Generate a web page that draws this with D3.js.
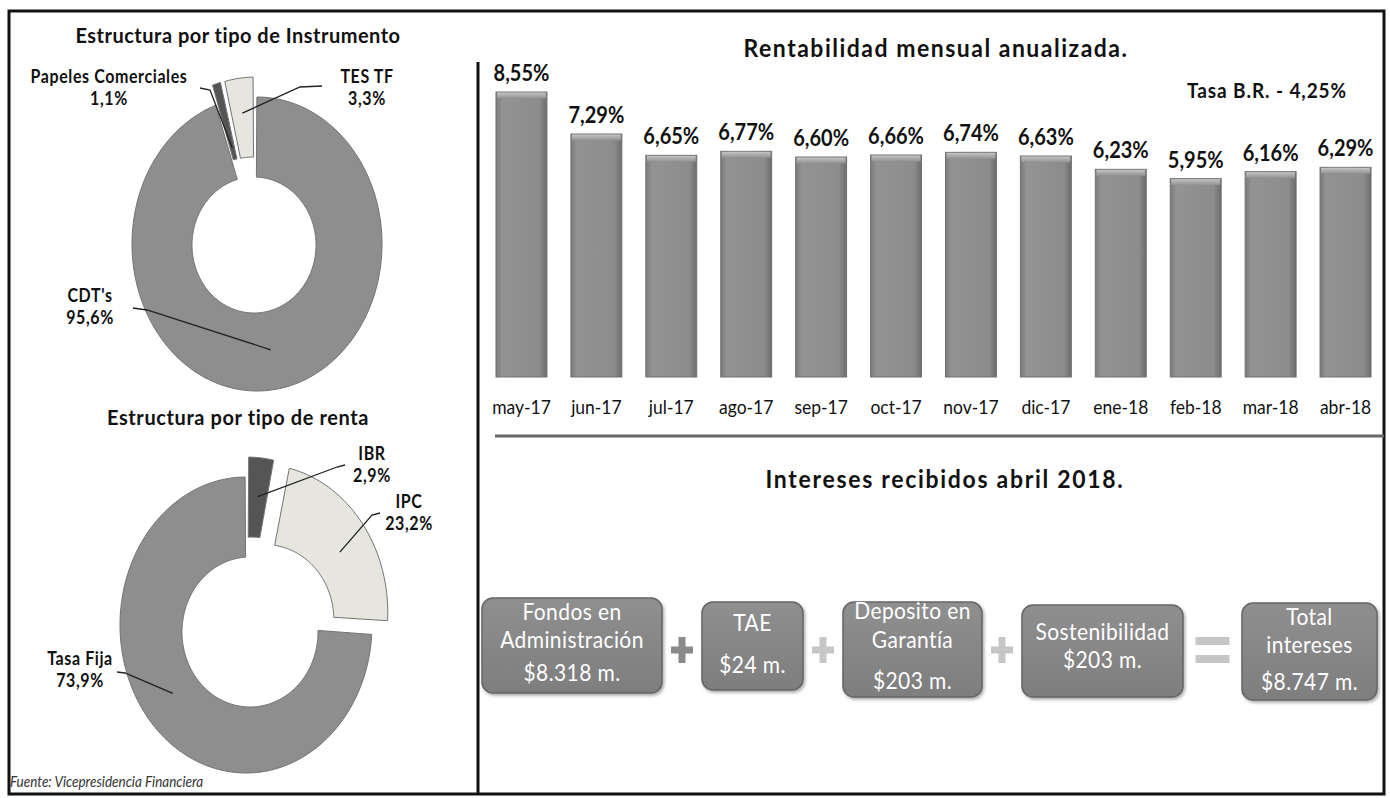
<!DOCTYPE html>
<html>
<head>
<meta charset="utf-8">
<script src="https://cdn.jsdelivr.net/npm/d3@7"></script>
<style>
  body { margin: 0; background: #fff; }
  svg { display: block; }
</style>
</head>
<body>
<svg width="1390" height="798"></svg>
<script>
// --- data ---
var instNames = ["CDT's", "Papeles Comerciales", "TES TF"];
var instValues = [95.6, 1.1, 3.3];

var rentaNames = ["IBR", "IPC", "Tasa Fija"];
var rentaValues = [2.9, 23.2, 73.9];

var months = ["may-17", "jun-17", "jul-17", "ago-17", "sep-17", "oct-17",
              "nov-17", "dic-17", "ene-18", "feb-18", "mar-18", "abr-18"];
var rentab = [8.55, 7.29, 6.65, 6.77, 6.60, 6.66, 6.74, 6.63, 6.23, 5.95, 6.16, 6.29];
var tasaBR = 4.25;

var conceptos = [["Fondos en", "Administración"], ["TAE"], ["Deposito en", "Garantía"],
                 ["Sostenibilidad"], ["Total", "intereses"]];
var montos = [8318, 24, 203, 203, 8747];
var operadores = ["+", "+", "+", "="];

// --- layout ---
var SY = 1.14; // the scan is a bit stretched vertically
var es = d3.formatLocale({decimal: ",", thousands: ".", grouping: [3], currency: ["$", ""]});
var pct1 = function(d) { return es.format(".1f")(d) + "%"; };
var pct2 = function(d) { return es.format(".2f")(d) + "%"; };
var money = function(d) { return es.format("$,")(d) + " m."; };

var svg = d3.select("svg");

var defs = svg.append("defs");
var gb = defs.append("linearGradient").attr("id", "barGrad");
gb.append("stop").attr("offset", "0%").attr("stop-color", "#7a7a7a");
gb.append("stop").attr("offset", "12%").attr("stop-color", "#939393");
gb.append("stop").attr("offset", "85%").attr("stop-color", "#8c8c8c");
gb.append("stop").attr("offset", "100%").attr("stop-color", "#6c6c6c");
var gt = defs.append("linearGradient").attr("id", "topGrad").attr("x2", 0).attr("y2", 1);
gt.append("stop").attr("offset", "0%").attr("stop-color", "#c4c4c4");
gt.append("stop").attr("offset", "100%").attr("stop-color", "#909090");
var gx = defs.append("linearGradient").attr("id", "boxGrad").attr("x2", 0).attr("y2", 1);
gx.append("stop").attr("offset", "0%").attr("stop-color", "#8f8f8f");
gx.append("stop").attr("offset", "100%").attr("stop-color", "#7e7e7e");
defs.append("filter").attr("id", "shadow")
  .append("feDropShadow").attr("dx", 1.5).attr("dy", 2).attr("stdDeviation", 1.5)
  .attr("flood-color", "#888").attr("flood-opacity", 0.7);

function txt(sel, x, y, s, o) {
  return sel.append("text")
    .attr("transform", "translate(" + x + "," + y + ") scale(1," + (o.sy || SY) + ")")
    .attr("text-anchor", o.anchor || "middle")
    .attr("font-family", o.font || "Lato")
    .attr("font-size", o.size)
    .attr("font-weight", o.weight || "normal")
    .attr("font-style", o.style || "normal")
    .attr("letter-spacing", o.ls || 0)
    .attr("fill", o.fill || "#111")
    .text(s);
}

// frame
svg.append("rect").attr("x", 9).attr("y", 11).attr("width", 1375).attr("height", 783)
  .attr("fill", "none").attr("stroke", "#111").attr("stroke-width", 3);
svg.append("line").attr("x1", 478).attr("x2", 478).attr("y1", 62).attr("y2", 794)
  .attr("stroke", "#111").attr("stroke-width", 3);
svg.append("line").attr("x1", 495).attr("x2", 1384).attr("y1", 436).attr("y2", 436)
  .attr("stroke", "#666").attr("stroke-width", 3);

// --- donuts ---
// radius of an ellipse (centre dx,dy from origin) along angle a
function ellR(a, e) {
  var s = Math.sin(a), c = Math.cos(a);
  var A = s * s / (e.rx * e.rx) + c * c / (e.ry * e.ry);
  var B = 2 * (-s * e.dx / (e.rx * e.rx) + c * e.dy / (e.ry * e.ry));
  var C = e.dx * e.dx / (e.rx * e.rx) + e.dy * e.dy / (e.ry * e.ry) - 1;
  return (-B + Math.sqrt(B * B - 4 * A * C)) / (2 * A);
}

function donut(cfg) {
  var g = svg.append("g").attr("transform", "translate(" + cfg.cx + "," + cfg.cy + ")");
  var arcs = d3.pie().sort(null).value(function(d) { return d; })(cfg.values);
  var area = d3.areaRadial()
    .angle(function(a) { return a; })
    .innerRadius(function(a) { return ellR(a, cfg.inner); })
    .outerRadius(function(a) { return ellR(a, cfg.outer); });

  arcs.forEach(function(d, i) {
    var a0 = d.startAngle + 0.006, a1 = d.endAngle - 0.006;
    var n = Math.max(4, Math.ceil((a1 - a0) * 40));
    var mid = (d.startAngle + d.endAngle) / 2;
    var off = cfg.explode[i];
    var ox = off * Math.sin(mid), oy = -off * Math.cos(mid);
    g.append("path")
      .attr("transform", "translate(" + ox + "," + oy + ")")
      .attr("d", area(d3.range(n + 1).map(function(k) { return a0 + (a1 - a0) * k / n; })))
      .attr("fill", cfg.colors[i])
      .attr("stroke", "#737373").attr("stroke-width", 1);

    // label + leader
    var L = cfg.labels[i];
    var rin = ellR(mid, cfg.inner), rout = ellR(mid, cfg.outer);
    var r = rin + L.f * (rout - rin);
    var px = cfg.cx + ox + r * Math.sin(mid), py = cfg.cy + oy - r * Math.cos(mid);
    svg.append("path")
      .attr("d", d3.line()([[L.lx0, L.ly0], [L.lx1, L.ly1], [px, py]]))
      .attr("fill", "none").attr("stroke", "#222").attr("stroke-width", 1.3);
    txt(svg, L.x, L.y, cfg.names[i], {size: 16, weight: "bold", ls: 0.6});
    txt(svg, L.x, L.y + 22, pct1(cfg.values[i]), {size: 16, weight: "bold", ls: 0.6});
  });
}

txt(svg, 238, 43, "Estructura por tipo de Instrumento", {size: 20, weight: "bold", ls: 0.5, sy: 1.06});
donut({
  cx: 256, cy: 244, values: instValues, names: instNames,
  outer: {rx: 125, ry: 147, dx: 1, dy: 0},
  inner: {rx: 62, ry: 68, dx: -2, dy: 1},
  explode: [0, 20, 20],
  colors: ["#8e8e8e", "#555555", "#e6e6de"],
  labels: [
    {x: 90, y: 302, lx0: 133, ly0: 308, lx1: 147, ly1: 310, f: 0.49},
    {x: 109, y: 83, lx0: 200, ly0: 88, lx1: 210, ly1: 90, f: 0.15},
    {x: 367, y: 83, lx0: 322, ly0: 86, lx1: 300, ly1: 87, f: 0.56}
  ]
});

txt(svg, 238, 425, "Estructura por tipo de renta", {size: 20, weight: "bold", ls: 0.6, sy: 1.06});
donut({
  cx: 246, cy: 625, values: rentaValues, names: rentaNames,
  outer: {rx: 126, ry: 148, dx: 0, dy: 0},
  inner: {rx: 68, ry: 75, dx: 4, dy: 7},
  explode: [20, 20, 0],
  colors: ["#555555", "#e6e6de", "#8e8e8e"],
  labels: [
    {x: 372, y: 460, lx0: 345, ly0: 465, lx1: 337, ly1: 467, f: 0.51},
    {x: 409, y: 508, lx0: 380, ly0: 513, lx1: 372, ly1: 515, f: 0.46},
    {x: 80, y: 665, lx0: 117, ly0: 672, lx1: 125, ly1: 673, f: 0.45}
  ]
});

txt(svg, 10, 787, "Fuente: Vicepresidencia Financiera",
    {size: 13.5, style: "italic", anchor: "start", fill: "#333"});

// --- bar chart ---
txt(svg, 936, 57, "Rentabilidad mensual anualizada.", {size: 23, weight: "bold", ls: 1.5, sy: 1.05});
txt(svg, 1347, 98, "Tasa B.R. - " + pct2(tasaBR), {size: 19, weight: "bold", ls: 0.9, anchor: "end", sy: 1.05});

var x = d3.scaleBand().domain(months).range([484, 1383]).paddingInner(0.32).paddingOuter(0.16);
var y = d3.scaleLinear().domain([0, 9]).range([377, 77]);

var bars = svg.append("g").selectAll("g").data(rentab).enter().append("g");
bars.append("rect")
  .attr("x", function(d, i) { return x(months[i]); })
  .attr("y", function(d) { return y(d); })
  .attr("width", x.bandwidth())
  .attr("height", function(d) { return y(0) - y(d); })
  .attr("fill", "url(#barGrad)")
  .attr("stroke", "#707070").attr("stroke-width", 1);
bars.append("rect")
  .attr("x", function(d, i) { return x(months[i]) + 1; })
  .attr("y", function(d) { return y(d) + 0.5; })
  .attr("width", x.bandwidth() - 2)
  .attr("height", 6)
  .attr("fill", "url(#topGrad)");
bars.each(function(d, i) {
  txt(d3.select(this), x(months[i]) + x.bandwidth() / 2, y(d) - 11, pct2(d), {size: 20, weight: "bold"});
});

var ax = svg.append("g").attr("transform", "translate(0," + y(0) + ")")
  .call(d3.axisBottom(x).tickSize(0));
ax.select(".domain").remove();
ax.selectAll("text")
  .attr("y", 0).attr("dy", null)
  .attr("transform", "translate(0,37) scale(1," + SY + ")")
  .attr("font-family", "Lato").attr("font-size", 17.5).attr("fill", "#111");

// --- intereses ---
txt(svg, 945, 488, "Intereses recibidos abril 2018.", {size: 23, weight: "bold", ls: 1.7, sy: 1.05});

var boxW = [180, 101, 139, 161, 135];
var boxGap = [40, 40, 40, 59];
var boxTop = [598, 602, 602, 605, 603];
var boxH = [95, 88, 95, 92, 97];
var lineOff = [[22, 50, 83], [29, 71], [17, 46, 87], [35, 63], [22, 50, 87]];
var boxX = [];
boxW.reduce(function(acc, w, i) { boxX.push(acc); return acc + w + (boxGap[i] || 0); }, 482);

var boxes = svg.append("g").selectAll("g").data(montos).enter().append("g");
boxes.append("rect")
  .attr("x", function(d, i) { return boxX[i]; })
  .attr("y", function(d, i) { return boxTop[i]; })
  .attr("width", function(d, i) { return boxW[i]; })
  .attr("height", function(d, i) { return boxH[i]; })
  .attr("rx", 11)
  .attr("fill", "url(#boxGrad)")
  .attr("stroke", "#666").attr("stroke-width", 1.5)
  .attr("filter", "url(#shadow)");
boxes.each(function(d, i) {
  var lines = conceptos[i].concat([money(d)]);
  var g = d3.select(this);
  lines.forEach(function(s, k) {
    txt(g, boxX[i] + boxW[i] / 2, boxTop[i] + lineOff[i][k], s, {size: 21, ls: 0.4, fill: "#fff", sy: 1.1});
  });
});

// operators between boxes
operadores.forEach(function(op, i) {
  var cx = boxX[i] + boxW[i] + boxGap[i] / 2, cy = 650;
  var col = i === 0 ? "#8a8a8a" : "#c6c6c6";
  var g = svg.append("g").attr("fill", col);
  if (op === "+") {
    g.append("rect").attr("x", cx - 11).attr("y", cy - 3.5).attr("width", 22).attr("height", 7);
    g.append("rect").attr("x", cx - 3.5).attr("y", cy - 13).attr("width", 7).attr("height", 26);
  } else {
    g.append("rect").attr("x", cx - 17).attr("y", cy - 13).attr("width", 34).attr("height", 8);
    g.append("rect").attr("x", cx - 17).attr("y", cy + 5).attr("width", 34).attr("height", 8);
  }
});
</script>
</body>
</html>
